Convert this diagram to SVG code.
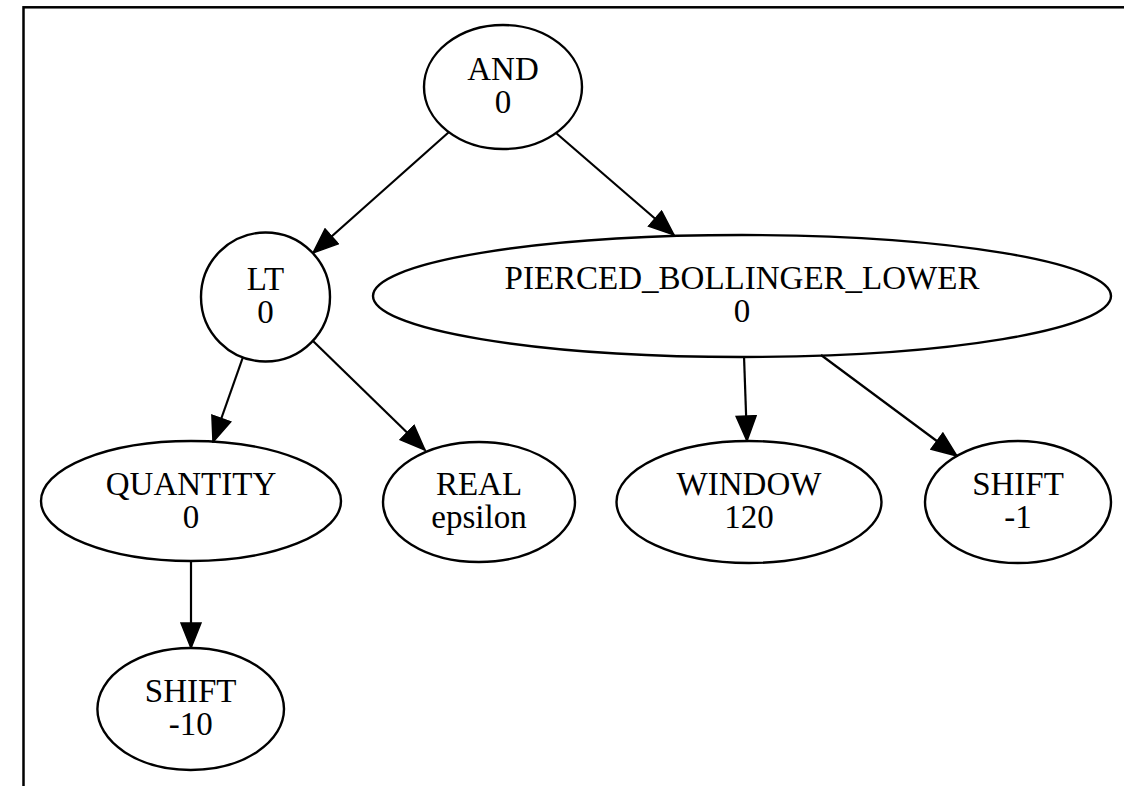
<svg xmlns="http://www.w3.org/2000/svg" width="1124" height="786" viewBox="0 0 1124 786">
<style>
.n ellipse{fill:none;stroke:#000;stroke-width:2.4}
.n text{font-family:"Liberation Serif","Times New Roman",serif;font-size:33px;text-anchor:middle;fill:#000}
.e line{stroke:#000;stroke-width:2.2;marker-end:url(#ah)}
</style>
<defs>
<marker id="ah" markerUnits="userSpaceOnUse" markerWidth="27" markerHeight="22" refX="26" refY="11" orient="auto" viewBox="0 0 27 22">
<path d="M1,1 L26,11 L1,21 z" fill="#000" stroke="#000" stroke-width="1.5"/>
</marker>
</defs>
<rect width="1124" height="786" fill="#fff"/>
<rect x="23.5" y="7.3" width="1300" height="1000" fill="none" stroke="#000" stroke-width="2.5"/>
<g id="edges" class="e">
<line x1="449" y1="132" x2="313" y2="253"/>
<line x1="556" y1="133" x2="674" y2="235"/>
<line x1="243" y1="357" x2="213" y2="442"/>
<line x1="313" y1="341" x2="425" y2="450"/>
<line x1="744" y1="356" x2="747" y2="441"/>
<line x1="821" y1="355" x2="957" y2="456"/>
<line x1="191" y1="560" x2="191" y2="648"/>
</g>
<g id="and" class="n"><ellipse cx="503" cy="87" rx="79" ry="62"/><text x="503" y="80">AND</text><text x="503" y="113">0</text></g>
<g id="lt" class="n"><ellipse cx="265.5" cy="297" rx="64.5" ry="64.5"/><text x="265.5" y="290">LT</text><text x="265.5" y="323">0</text></g>
<g id="pierced" class="n"><ellipse cx="742" cy="296" rx="369" ry="61"/><text x="742" y="289">PIERCED_BOLLINGER_LOWER</text><text x="742" y="322">0</text></g>
<g id="quantity" class="n"><ellipse cx="191" cy="501" rx="150" ry="60"/><text x="191" y="495">QUANTITY</text><text x="191" y="528">0</text></g>
<g id="real" class="n"><ellipse cx="479" cy="502" rx="96" ry="60"/><text x="479" y="495">REAL</text><text x="479" y="528">epsilon</text></g>
<g id="window" class="n"><ellipse cx="749" cy="502" rx="132.5" ry="61"/><text x="749" y="495">WINDOW</text><text x="749" y="528">120</text></g>
<g id="shift1" class="n"><ellipse cx="1018" cy="502" rx="93" ry="61"/><text x="1018" y="495">SHIFT</text><text x="1018" y="528">-1</text></g>
<g id="shift10" class="n"><ellipse cx="190.7" cy="709" rx="93.3" ry="61"/><text x="190.7" y="702">SHIFT</text><text x="190.7" y="735">-10</text></g>
</svg>
